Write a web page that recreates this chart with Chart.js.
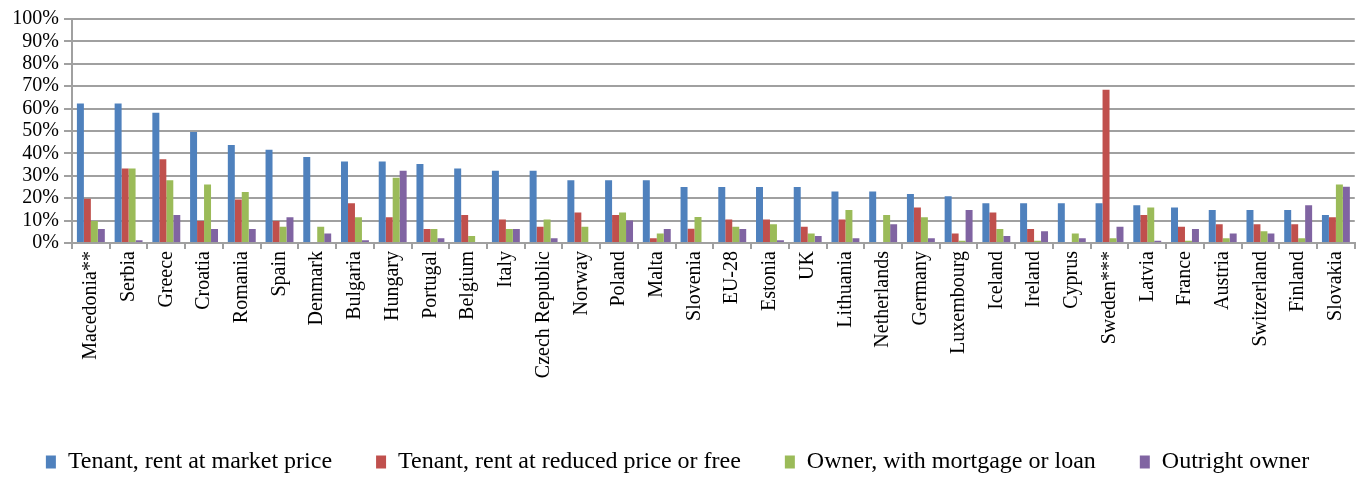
<!DOCTYPE html>
<html>
<head>
<meta charset="utf-8">
<script src="https://cdn.jsdelivr.net/npm/chart.js@4/dist/chart.umd.min.js"></script>
<style>
  html, body { margin: 0; padding: 0; background: #ffffff; }
  #wrap { width: 1362px; height: 484px; }
</style>
</head>
<body>
<div id="wrap"><canvas id="myChart"></canvas></div>
<script>
var countries = ['Macedonia**', 'Serbia', 'Greece', 'Croatia', 'Romania', 'Spain', 'Denmark', 'Bulgaria',
	'Hungary', 'Portugal', 'Belgium', 'Italy', 'Czech Republic', 'Norway', 'Poland', 'Malta', 'Slovenia',
	'EU-28', 'Estonia', 'UK', 'Lithuania', 'Netherlands', 'Germany', 'Luxembourg', 'Iceland', 'Ireland',
	'Cyprus', 'Sweden***', 'Latvia', 'France', 'Austria', 'Switzerland', 'Finland', 'Slovakia'];

var tenant_market = [62.3, 62.3, 58.1, 49.6, 43.7, 41.6, 38.4, 36.4, 36.4, 35.3, 33.3, 32.2, 32.2, 28, 28, 28, 25,
	25, 25, 25, 23, 23, 21.9, 20.9, 17.7, 17.7, 17.7, 17.7, 16.8, 15.8, 14.7, 14.7, 14.7, 12.5];
var tenant_reduced = [19.7, 33.3, 37.4, 9.8, 19.4, 9.8, 0, 17.7, 11.5, 6.3, 12.5, 10.5, 7.3, 13.6, 12.5, 2.1, 6.4,
	10.5, 10.5, 7.3, 10.5, 0, 15.8, 4.2, 13.6, 6.3, 0, 68.4, 12.5, 7.3, 8.4, 8.4, 8.4, 11.5];
var owner_mortgage = [9.8, 33.3, 28, 26.1, 22.8, 7.2, 7.2, 11.5, 29.1, 6.3, 3.1, 6.3, 10.5, 7.3, 13.6, 4.2, 11.6,
	7.3, 8.4, 4.2, 14.7, 12.5, 11.5, 1, 6.3, 1, 4.2, 2.1, 15.8, 1, 2.1, 5.2, 2.1, 26.1];
var outright_owner = [6.3, 1.2, 12.5, 6.3, 6.3, 11.5, 4.2, 1.2, 32.2, 2.1, 0, 6.3, 2.1, 0, 10.1, 6.3, 0,
	6.3, 1.2, 3.1, 2.1, 8.4, 2.1, 14.7, 3.1, 5.2, 2.1, 7.3, 1, 6.3, 4.2, 4.2, 16.8, 25.1];

var series_names = ['Tenant, rent at market price', 'Tenant, rent at reduced price or free',
	'Owner, with mortgage or loan', 'Outright owner'];
var series_colors = ['#4F81BD', '#C0504D', '#9BBB59', '#8064A2'];
var y_ticks = [0, 10, 20, 30, 40, 50, 60, 70, 80, 90, 100];

var serif = "'Liberation Serif', 'Times New Roman', serif";
var gridColor = '#a0a0a0';

var allValues = [tenant_market, tenant_reduced, owner_mortgage, outright_owner];
var datasets = [];
for (var i = 0; i < allValues.length; i++) {
	datasets.push({
		label: series_names[i],
		data: allValues[i],
		backgroundColor: series_colors[i],
		borderWidth: 0,
		barPercentage: 1.0,
		categoryPercentage: 0.74
	});
}

var config = {
	type: 'bar',
	data: {
		labels: countries,
		datasets: datasets
	},
	options: {
		responsive: true,
		maintainAspectRatio: false,
		animation: false,
		layout: {
			padding: { top: 19, right: 7, bottom: 0, left: 0 }
		},
		plugins: {
			title: { display: false },
			tooltip: { enabled: false },
			legend: {
				position: 'bottom',
				labels: {
					boxWidth: 10,
					boxHeight: 13,
					padding: 44,
					color: '#000000',
					font: { family: serif, size: 24 }
				}
			}
		},
		scales: {
			x: {
				grid: {
					display: true,
					drawOnChartArea: false,
					drawTicks: true,
					tickLength: 6,
					color: gridColor,
					lineWidth: 2
				},
				border: { display: true, color: gridColor, width: 2 },
				ticks: {
					autoSkip: false,
					minRotation: 90,
					maxRotation: 90,
					padding: 2,
					color: '#000000',
					font: { family: serif, size: 20 }
				},
				afterFit: function(scale) {
					scale.height = 163;
				}
			},
			y: {
				min: 0,
				max: 100,
				afterBuildTicks: function(scale) {
					scale.ticks = y_ticks.map(function(v) { return { value: v }; });
				},
				grid: {
					color: gridColor,
					lineWidth: 2,
					drawTicks: true,
					tickLength: 8
				},
				border: { display: true, color: gridColor, width: 2 },
				ticks: {
					autoSkip: false,
					padding: 5,
					color: '#000000',
					font: { family: serif, size: 20 },
					callback: function(value) { return value + '%'; }
				},
				afterFit: function(scale) {
					scale.width = 72;
				}
			}
		}
	}
};

window.housing_chart = new Chart(document.getElementById('myChart').getContext('2d'), config);
</script>
</body>
</html>
